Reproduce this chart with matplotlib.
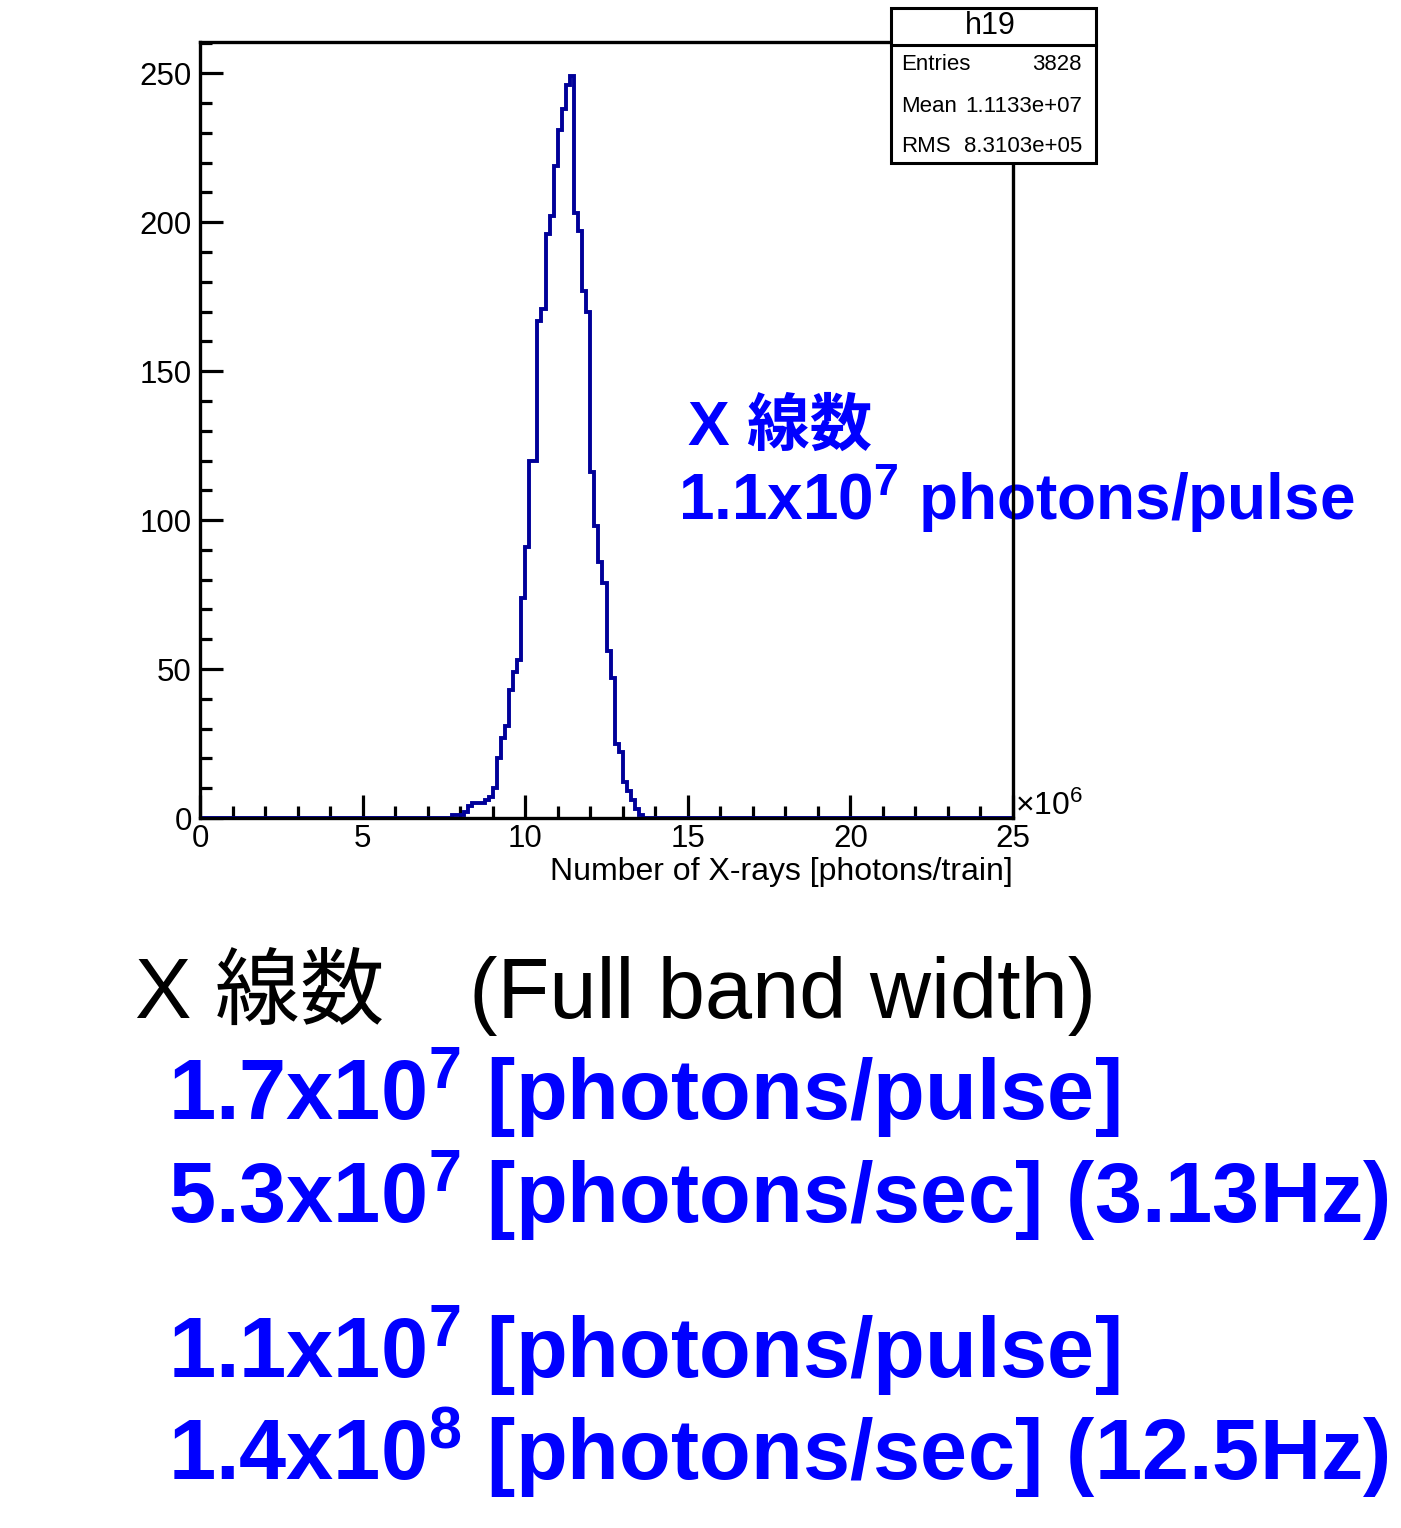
import numpy as np
import matplotlib
matplotlib.use('Agg')
import matplotlib.pyplot as plt
from matplotlib.patches import Rectangle
from matplotlib.lines import Line2D
from matplotlib.ticker import MultipleLocator

plt.rcParams['font.family'] = ['Liberation Sans', 'Noto Sans CJK JP', 'DejaVu Sans']
plt.rcParams['mathtext.fontset'] = 'custom'
plt.rcParams['mathtext.rm'] = 'Liberation Sans'
plt.rcParams['mathtext.bf'] = 'Liberation Sans:bold'
plt.rcParams['mathtext.it'] = 'Liberation Sans:italic'

# ---------------- data ----------------
n_bins = 200
x_min, x_max = 0.0, 25.0          # in units of 10^6 photons/train
first_filled_bin = 62             # index of first non-empty bin
counts_filled = [1, 1, 1, 2, 4, 5, 5, 5, 6, 7,
                 10, 20, 27, 31, 43, 49, 53, 74, 91, 120,
                 120, 167, 171, 196, 202, 219, 231, 238, 246, 249,
                 203, 197, 177, 170, 116, 98, 86, 79, 56, 47,
                 25, 22, 12, 9, 6, 3, 1]
y_max = 260.5
x_ticks = [0, 5, 10, 15, 20, 25]
y_ticks = [0, 50, 100, 150, 200, 250]
x_label = 'Number of X-rays [photons/train]'
x_exponent = '×10$^{6}$'
stats_title = 'h19'
stats_labels = ['Entries', 'Mean', 'RMS']
stats_values = ['3828', '1.1133e+07', '8.3103e+05']

note_title = 'X 線数'
note_value = r'1.1x10$^{\mathbf{7}}$ photons/pulse'
summary_title = 'X 線数　(Full band width)'
summary_lines = [r'1.7x10$^{\mathbf{7}}$ [photons/pulse]',
                 r'5.3x10$^{\mathbf{7}}$ [photons/sec] (3.13Hz)',
                 r'1.1x10$^{\mathbf{7}}$ [photons/pulse]',
                 r'1.4x10$^{\mathbf{8}}$ [photons/sec] (12.5Hz)']
summary_baselines = [1120, 1223, 1378, 1480]

# ---------------- layout ----------------
W, H = 1401, 1528
fig = plt.figure(figsize=(W / 100, H / 100), dpi=100)
fig.patch.set_facecolor('white')

def fx(p):
    return p / W

def fy(p):
    return 1 - p / H

ax = fig.add_axes([fx(200), fy(818), fx(1013) - fx(200), fy(42) - fy(818)])

edges = np.linspace(x_min, x_max, n_bins + 1)
counts = np.zeros(n_bins)
counts[first_filled_bin:first_filled_bin + len(counts_filled)] = counts_filled
ax.stairs(counts, edges, color='#000099', lw=2.8, zorder=2.2)

ax.set_xlim(x_min, x_max)
ax.set_ylim(0, y_max)
ax.set_xticks(x_ticks)
ax.set_yticks(y_ticks)
ax.xaxis.set_minor_locator(MultipleLocator(1))
ax.yaxis.set_minor_locator(MultipleLocator(10))
ax.tick_params(which='both', direction='in', top=False, right=False,
               width=2.3, colors='black', labelsize=22.5)
ax.tick_params(which='major', length=16.5)
ax.tick_params(which='minor', length=8.5)
ax.tick_params(axis='x', pad=4)
ax.tick_params(axis='y', pad=6)
for s in ax.spines.values():
    s.set_linewidth(2.4)
    s.set_color('black')

fig.text(fx(1013), fy(872), x_label, ha='right', va='center', fontsize=23)
fig.text(fx(1015), fy(806), x_exponent, ha='left', va='center', fontsize=23)

# stats box
box = Rectangle((fx(891), fy(163)), fx(1096) - fx(891), fy(8) - fy(163),
                transform=fig.transFigure, fc='white', ec='black', lw=2.2, zorder=5)
fig.add_artist(box)
fig.add_artist(Line2D([fx(891), fx(1096)], [fy(45), fy(45)],
                      transform=fig.transFigure, color='black', lw=2.2, zorder=6))
fig.text(fx(990), fy(26), stats_title, ha='center', va='center', fontsize=22, zorder=7)
for lab, val, yy in zip(stats_labels, stats_values, [65, 107, 146]):
    fig.text(fx(901), fy(yy), lab, ha='left', va='center', fontsize=16, zorder=7)
    fig.text(fx(1082), fy(yy), val, ha='right', va='center', fontsize=16, zorder=7)

# annotation inside plot (behind the frame line)
ax.text(fx(688), fy(445), note_title, transform=fig.transFigure, ha='left',
        va='baseline', fontsize=45, fontweight='bold', color='#0000ff',
        zorder=2, clip_on=False)
ax.text(fx(678), fy(520), note_value, transform=fig.transFigure, ha='left',
        va='baseline', fontsize=46, fontweight='bold', color='#0000ff',
        zorder=2, clip_on=False)

# summary text
fig.text(fx(135), fy(1018), summary_title, ha='left', va='baseline',
         fontsize=61, color='black')
for line, base in zip(summary_lines, summary_baselines):
    fig.text(fx(168), fy(base), line, ha='left', va='baseline',
             fontsize=61, fontweight='bold', color='#0000ff')

fig.savefig('out.png', dpi=100, facecolor='white')
